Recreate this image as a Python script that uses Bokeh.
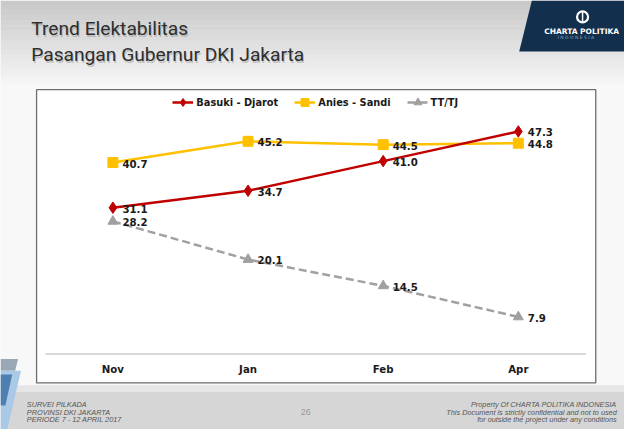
from bokeh.plotting import figure
from bokeh.models import Range1d, Legend, LegendItem, ColumnDataSource
from bokeh.core.properties import value
from bokeh.embed import file_html
from bokeh.resources import INLINE

# ---------------- data ----------------
months = ["Nov", "Jan", "Feb", "Apr"]
basuki = [31.1, 34.7, 41.0, 47.3]
anies = [40.7, 45.2, 44.5, 44.8]
tttj = [28.2, 20.1, 14.5, 7.9]
series_names = ["Basuki - Djarot", "Anies - Sandi", "TT/TJ"]

title_lines = ["Trend Elektabilitas", "Pasangan Gubernur DKI Jakarta"]
footer_left = ["SURVEI PILKADA", "PROVINSI DKI JAKARTA", "PERIODE 7 - 12 APRIL 2017"]
footer_right = ["Property Of CHARTA POLITIKA INDONESIA",
                "This Document is strictly confidential and not to used",
                "for outside the project under any conditions"]
page_number = "26"

# ---------------- figure (main ranges = slide space 640 x 445) ----------------
W, H = 624, 429
p = figure(width=W, height=H, output_backend="svg", toolbar_location=None,
           x_range=Range1d(0, 640), y_range=Range1d(445, 0),
           x_axis_type=None, y_axis_type=None,
           min_border=0, min_border_left=0, min_border_right=0,
           min_border_top=0, min_border_bottom=0)
p.grid.visible = False
p.outline_line_color = None
p.background_fill_color = "#f8f8f8"
p.border_fill_color = "#f8f8f8"

# data ranges for the chart area
p.extra_x_ranges = {"cx": Range1d(-0.8319, 3.7857)}
p.extra_y_ranges = {"cy": Range1d(-16.015, 75.118)}

# ---------------- slide decoration ----------------
n_bands = 18
top, bottom = 0, 92
c0, c1 = (0xc9, 0xc9, 0xc9), (0xf8, 0xf8, 0xf8)
lefts, rights, tops, bottoms, cols = [], [], [], [], []
for i in range(n_bands):
    t = i / (n_bands - 1)
    col = tuple(int(c0[k] + (c1[k] - c0[k]) * t) for k in range(3))
    lefts.append(0); rights.append(640)
    tops.append(top + (bottom - top) * i / n_bands)
    bottoms.append(top + (bottom - top) * (i + 1) / n_bands + 0.5)
    cols.append("#%02x%02x%02x" % col)
p.quad(left=lefts, right=rights, top=tops, bottom=bottoms, fill_color=cols, line_color=None)

# footer band
p.quad(left=[0, 0], right=[640, 640], top=[399, 406], bottom=[406, 445],
       fill_color=["#e6e6e6", "#d6d6d6"], line_color=None)

# left blue decoration
p.patch(x=[0, 18, 15, 0], y=[372, 372, 384, 384], fill_color="#9aa7b5", line_color=None)
p.patch(x=[0, 21, 7, 0], y=[384, 384, 445, 445], fill_color="#a9c9e6", line_color=None)
p.patch(x=[0, 12, 5, 0], y=[388, 388, 420, 420], fill_color="#4f7fb0", line_color=None)

# logo panel
p.patch(x=[545, 640, 640, 532], y=[0, 0, 53, 53], fill_color="#12304d", line_color=None)
p.scatter(x=[597], y=[17], marker="circle", size=11, fill_color=None,
          line_color="white", line_width=2.2)
p.segment(x0=[597], y0=[11.5], x1=[597], y1=[22.5], line_color="white", line_width=1.5)
p.text(x=[596], y=[32], text=["CHARTA POLITIKA"], text_font=value("DejaVu Sans"),
       text_font_style="bold", text_font_size="7.5px", text_color="white",
       text_align="center", text_baseline="middle")
p.text(x=[596], y=[38.5], text=["I  N  D  O  N  E  S  I  A"], text_font=value("DejaVu Sans"),
       text_font_size="4.5px", text_color="#8fa3b8",
       text_align="center", text_baseline="middle")

# title (soft shadow + text)
p.text(x=[32.5, 32.5], y=[31, 58], text=title_lines, text_font=value("Roboto"),
       text_font_size="19.2px", text_color="#8a8a8a", text_alpha=0.45,
       text_align="left", text_baseline="alphabetic")
p.text(x=[31.5, 31.5], y=[29.5, 56.5], text=title_lines, text_font=value("Roboto"),
       text_font_size="19.2px", text_color="#2e2e2e",
       text_align="left", text_baseline="alphabetic")

# footer text
p.text(x=[27] * 3, y=[419.3, 427.3, 435], text=footer_left,
       text_font=value("Liberation Sans"), text_font_style="italic",
       text_font_size="7.3px", text_color="#555555",
       text_align="left", text_baseline="middle")
p.text(x=[632] * 3, y=[419.3, 427.3, 435], text=footer_right,
       text_font=value("Liberation Sans"), text_font_style="italic",
       text_font_size="7.3px", text_color="#555555",
       text_align="right", text_baseline="middle")
p.text(x=[313], y=[427], text=[page_number], text_font=value("Liberation Sans"),
       text_font_size="9px", text_color="#999999",
       text_align="center", text_baseline="middle")

# chart box
p.quad(left=[37], right=[610.5], top=[92.5], bottom=[396.7],
       fill_color="white", line_color="#6e6e6e", line_width=1.3)

# ---------------- chart (through data ranges) ----------------
idx = list(range(len(months)))
src = ColumnDataSource(dict(x=idx, months=months,
                            basuki=basuki, anies=anies, tttj=tttj,
                            lb=["%.1f" % v for v in basuki],
                            la=["%.1f" % v for v in anies],
                            lt=["%.1f" % v for v in tttj]))
kw = dict(source=src, x_range_name="cx", y_range_name="cy")

# category axis line and labels
p.segment(x0=[-0.5], y0=[0], x1=[len(months) - 0.5], y1=[0],
          x_range_name="cx", y_range_name="cy", line_color="#d9d9d9", line_width=2)
p.text(x="x", y=0, text="months", y_offset=15, text_font=value("DejaVu Sans"),
       text_font_style="bold", text_font_size="10.2px", text_color="#1a1a1a",
       text_align="center", text_baseline="middle", **kw)

g_line = p.line("x", "tttj", line_color="#a0a0a0", line_width=2.5, line_dash="8 4", **kw)
g_mark = p.scatter("x", "tttj", marker="triangle", size=10, fill_color="#a0a0a0",
                   line_color="#a0a0a0", **kw)
y_line = p.line("x", "anies", line_color="#FFC000", line_width=2.5, **kw)
y_mark = p.scatter("x", "anies", marker="square", size=10, fill_color="#FFC000",
                   line_color="#FFC000", **kw)
r_line = p.line("x", "basuki", line_color="#C00000", line_width=2.5, **kw)
r_mark = p.scatter("x", "basuki", marker="diamond", size=11.5, fill_color="#C00000",
                   line_color="#C00000", **kw)

lab = dict(x_offset=9.5, text_font=value("DejaVu Sans"), text_font_style="bold",
           text_font_size="10.2px", text_color="#1a1a1a",
           text_align="left", text_baseline="middle", **kw)
p.text(x="x", y="basuki", text="lb", y_offset=1, **lab)
p.text(x="x", y="anies", text="la", y_offset=1, **lab)
p.text(x="x", y="tttj", text="lt", y_offset=1, **lab)

legend = Legend(items=[LegendItem(label=series_names[0], renderers=[r_line, r_mark]),
                       LegendItem(label=series_names[1], renderers=[y_line, y_mark]),
                       LegendItem(label=series_names[2], renderers=[g_line, g_mark])],
                orientation="horizontal", location=(172.3, 316.8),
                padding=0, margin=0, spacing=16, label_standoff=3,
                glyph_width=21, glyph_height=20, label_height=20,
                background_fill_alpha=0, border_line_color=None,
                label_text_font="DejaVu Sans", label_text_font_style="bold",
                label_text_font_size="9.8px", label_text_color="#1a1a1a")
p.add_layout(legend)

open("out.html", "w").write(file_html(p, INLINE))
